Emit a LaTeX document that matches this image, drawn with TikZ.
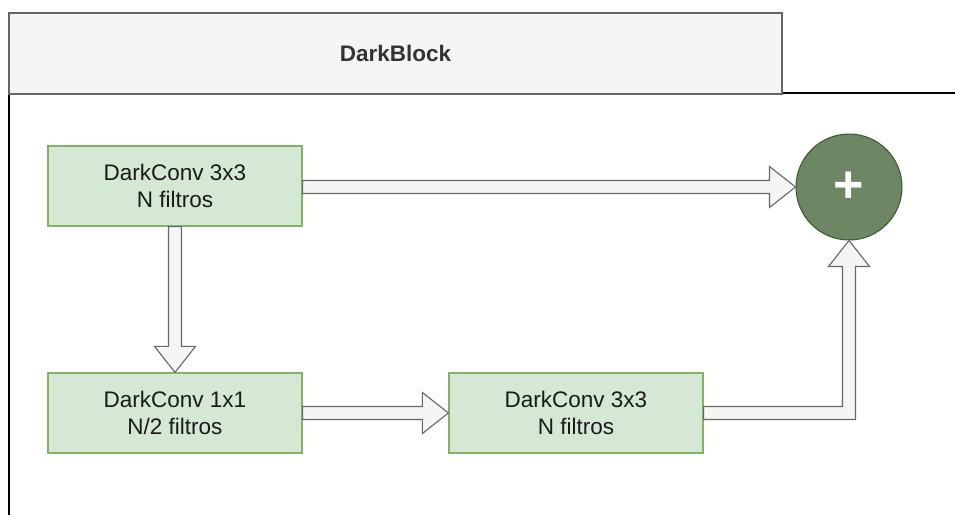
\documentclass[tikz,border=0pt]{standalone}
\usepackage{fontspec}
\setmainfont{Liberation Sans}
\usetikzlibrary{calc}
\definecolor{hdrfill}{HTML}{F5F5F5}
\definecolor{hdrline}{HTML}{666666}
\definecolor{boxfill}{HTML}{D5E8D4}
\definecolor{boxline}{HTML}{82B366}
\definecolor{sumfill}{HTML}{6D8764}
\definecolor{sumline}{HTML}{3A5431}
\definecolor{txt}{HTML}{1A1A1A}
\definecolor{hdrtxt}{HTML}{333333}
\tikzset{
  hdrbox/.style={draw=hdrline, fill=hdrfill, line width=1.2pt, minimum width=773pt, minimum height=81pt, inner sep=0pt,
    font=\fontsize{22.5}{27}\selectfont\bfseries, text=hdrtxt},
  convbox/.style={draw=boxline, fill=boxfill, line width=1.2pt, minimum width=254pt, minimum height=80pt, inner sep=0pt,
    align=center, font=\fontsize{22.5}{26.5}\selectfont, text=txt},
  sumnode/.style={circle, draw=sumline, fill=sumfill, line width=1pt, minimum size=106pt, inner sep=0pt,
    font=\fontsize{52}{52}\selectfont\bfseries, text=white},
  fatarrow/.style={draw=hdrline, fill=hdrfill, line width=1.1pt, line join=miter},
  frameline/.style={draw=black, line width=1.3pt}
}
\begin{document}
\begin{tikzpicture}[x=1pt, y=-1pt]
\useasboundingbox (0,0) rectangle (955,514);
% container frame
\coordinate (fl) at (9,94);
\coordinate (fb) at (9,516);
\coordinate (tr0) at (782,93);
\coordinate (tr1) at (957,93);
\draw[frameline] (fl) -- (fb);
\draw[frameline] (tr0) -- (tr1);
\node[hdrbox] (hdr) at (395.5,53.5) {DarkBlock};
% blocks
\node[convbox] (b1) at (175,186) {DarkConv 3x3\\N filtros};
\node[convbox] (b2) at (175,413) {DarkConv 1x1\\N/2 filtros};
\node[convbox] (b3) at (576,413) {DarkConv 3x3\\N filtros};
\node[sumnode] (sum) at (849,187) {+};
% arrow b1 -> sum
\draw[fatarrow] ($(b1.east |- sum.west)+(0,-6.5)$) -- ($(sum.west)+(-26,-6.5)$) -- ($(sum.west)+(-26,-20.5)$)
  -- (sum.west) -- ($(sum.west)+(-26,20.5)$) -- ($(sum.west)+(-26,6.5)$) -- ($(b1.east |- sum.west)+(0,6.5)$) -- cycle;
% arrow b1 -> b2
\draw[fatarrow] ($(b1.south)+(-6.5,0)$) -- ($(b2.north)+(-6.5,-26)$) -- ($(b2.north)+(-20.5,-26)$)
  -- (b2.north) -- ($(b2.north)+(20.5,-26)$) -- ($(b2.north)+(6.5,-26)$) -- ($(b1.south)+(6.5,0)$) -- cycle;
% arrow b2 -> b3
\draw[fatarrow] ($(b2.east)+(0,-6.5)$) -- ($(b3.west)+(-26,-6.5)$) -- ($(b3.west)+(-26,-20.5)$)
  -- (b3.west) -- ($(b3.west)+(-26,20.5)$) -- ($(b3.west)+(-26,6.5)$) -- ($(b2.east)+(0,6.5)$) -- cycle;
% arrow b3 -> sum (elbow)
\coordinate (elb) at (sum.south |- b3.east);
\draw[fatarrow] ($(b3.east)+(0,-6.5)$) -- ($(elb)+(-6.5,-6.5)$) -- ($(sum.south)+(-6.5,26)$) -- ($(sum.south)+(-20.5,26)$)
  -- (sum.south) -- ($(sum.south)+(20.5,26)$) -- ($(sum.south)+(6.5,26)$) -- ($(elb)+(6.5,6.5)$) -- ($(b3.east)+(0,6.5)$) -- cycle;
\end{tikzpicture}
\end{document}
